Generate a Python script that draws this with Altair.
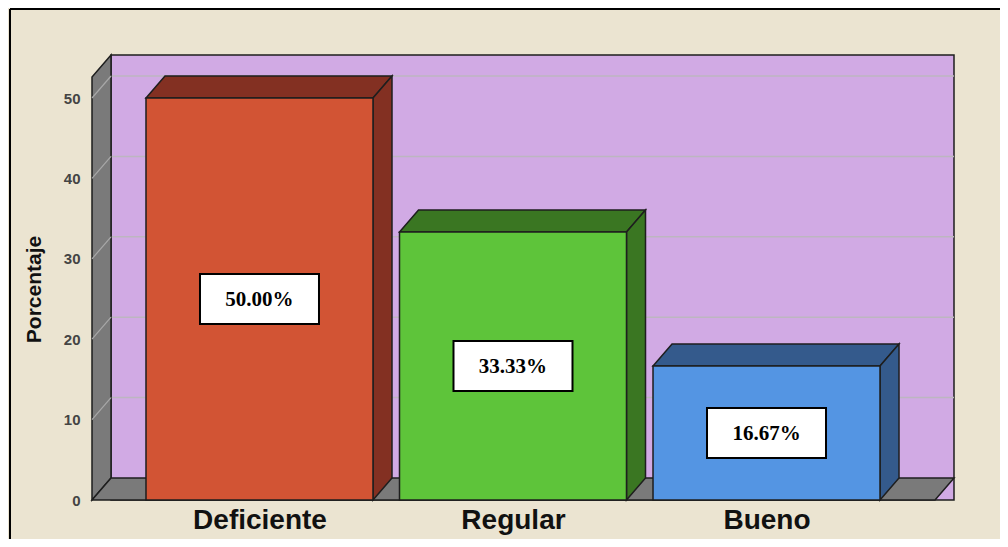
import json
import altair as alt
import pandas as pd

# ---- data ----
categories = ["Deficiente", "Regular", "Bueno"]
values = [50.00, 33.33, 16.67]
value_labels = ["50.00%", "33.33%", "16.67%"]
front_colors = ["#D25434", "#5EC43A", "#5495E3"]
side_colors = ["#833022", "#3A7622", "#345A8C"]
y_ticks = [0, 10, 20, 30, 40, 50]

# ---- layout (scale units) ----
X_MIN, X_MAX = -0.6607, 2.7396
Y_MAX = 55.35
HALF = 0.4477          # half bar width (category units)
DX = 0.075             # depth offset in x (category units)
DY = 2.736             # depth offset in y (value units)
FLOOR_R = 2.6647
WALL_TOP = Y_MAX - DY

BG = "#EBE4D1"
WALL = "#D1AAE4"
GRAY = "#7A7A7A"
EDGE = "#1E1E1E"
GRID = "#BDB6C0"

xscale = alt.Scale(domain=[X_MIN, X_MAX], nice=False, zero=False)
yscale = alt.Scale(domain=[0, Y_MAX], nice=False, zero=False)

label_expr = json.dumps(categories) + "[round(datum.value)]"
xaxis = alt.Axis(values=[0, 1, 2], labelExpr=label_expr, title=None, grid=False,
                 domain=False, ticks=False, labelPadding=6, labelFontSize=28,
                 labelFont="Liberation Sans", labelFontWeight="bold", labelColor="#111111",
                 labelOverlap=False, labelFlush=False)
yaxis = alt.Axis(values=y_ticks, title="Porcentaje", grid=False, domain=False, ticks=False,
                 labelPadding=12, labelFontSize=15, labelFont="Liberation Sans",
                 labelFontWeight="bold", labelColor="#444444", titleFont="Liberation Sans",
                 titleFontSize=21, titleFontWeight="bold", titleColor="#111111", titlePadding=19,
                 titleY=234)

X = alt.X("x:Q", scale=xscale, axis=xaxis)
Y = alt.Y("y:Q", scale=yscale, axis=yaxis, stack=None)

def area_layer(rows):
    df = pd.DataFrame(rows, columns=["poly", "x", "y", "y2", "fill"])
    return alt.Chart(df).mark_area(stroke=EDGE, strokeWidth=1.5, strokeJoin="miter").encode(
        x=X, y=Y, y2=alt.Y2("y2:Q"), detail="poly:N",
        fill=alt.Fill("fill:N", scale=None))

# back wall
back = area_layer([
    ["back", X_MIN + DX, 0, Y_MAX, WALL],
    ["back", X_MAX, 0, Y_MAX, WALL],
])

# grid lines on back wall and on left wall
grid_rows = []
for v in y_ticks[1:]:
    grid_rows.append({"x": X_MIN + DX, "x2": X_MAX, "y": v + DY, "y2": v + DY})
grid_back = alt.Chart(pd.DataFrame(grid_rows)).mark_rule(color=GRID, strokeWidth=1.5).encode(
    x=X, x2="x2:Q", y=Y, y2="y2:Q")

# left wall and floor
left_wall = area_layer([
    ["wall", X_MIN, 0, WALL_TOP, GRAY],
    ["wall", X_MIN + DX, DY, Y_MAX, GRAY],
])
floor = area_layer([
    ["floor", X_MIN, 0, 0, GRAY],
    ["floor", X_MIN + DX, 0, DY, GRAY],
    ["floor", FLOOR_R, 0, DY, GRAY],
    ["floor", FLOOR_R + DX, DY, DY, GRAY],
])
grid_left = alt.Chart(pd.DataFrame(
    [{"x": X_MIN, "x2": X_MIN + DX, "y": v, "y2": v + DY} for v in y_ticks[1:]]
)).mark_rule(color="#A8A8A8", strokeWidth=1.2).encode(x=X, x2="x2:Q", y=Y, y2="y2:Q")

# bars: top and side faces
face_rows = []
for i, (v, sc) in enumerate(zip(values, side_colors)):
    l, r = i - HALF, i + HALF
    face_rows += [
        [f"top{i}", l, v, v, sc],
        [f"top{i}", l + DX, v, v + DY, sc],
        [f"top{i}", r, v, v + DY, sc],
        [f"top{i}", r + DX, v + DY, v + DY, sc],
        [f"side{i}", r, 0, v, sc],
        [f"side{i}", r + DX, DY, v + DY, sc],
    ]
faces = area_layer(face_rows)

bars_df = pd.DataFrame({
    "cat": categories,
    "x": [i - HALF for i in range(len(categories))],
    "x2": [i + HALF for i in range(len(categories))],
    "y": [0] * len(values),
    "y2": values,
    "fill": front_colors,
})
fronts = alt.Chart(bars_df).mark_rect(stroke=EDGE, strokeWidth=1.5).encode(
    x=X, x2="x2:Q", y=Y, y2="y2:Q", fill=alt.Fill("fill:N", scale=None))

lab_df = pd.DataFrame({
    "x": list(range(len(categories))),
    "y": [v / 2 for v in values],
    "label": value_labels,
})
boxes = alt.Chart(lab_df).mark_point(
    shape="M-1,-0.42L1,-0.42L1,0.42L-1,0.42Z", size=119 * 119, filled=True,
    fill="white", stroke="black", strokeWidth=2, opacity=1).encode(x=X, y=Y)
texts = alt.Chart(lab_df).mark_text(
    font="Liberation Serif", fontSize=21, fontWeight="bold", color="black",
    baseline="middle", dy=1).encode(x=X, y=Y, text="label:N")

# frame lines of the picture
border = alt.Chart(alt.Data(values=[{}])).mark_rule(color="black", strokeWidth=2).encode(
    x=alt.value(-82), y=alt.value(-46), y2=alt.value(484))
border_top = alt.Chart(alt.Data(values=[{}])).mark_rule(color="black", strokeWidth=2).encode(
    x=alt.value(-82), x2=alt.value(908), y=alt.value(-46))

chart = alt.layer(
    back, grid_back, left_wall, grid_left, floor, faces, fronts, boxes, texts, border, border_top
).properties(
    width=862, height=445,
    autosize=alt.AutoSizeParams(type="none"),
    padding={"left": 84, "top": 47, "right": 46, "bottom": 39},
    background=BG,
).configure_view(stroke=None)

chart.save("out.html", embed_options={"renderer": "svg", "actions": False})
